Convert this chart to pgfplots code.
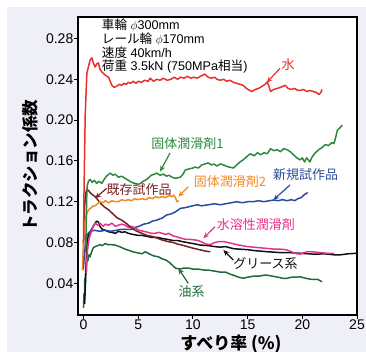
\documentclass[border=0pt]{standalone}
\usepackage{fontspec}
\setmainfont{Liberation Sans}
\newfontfamily\jp{Noto Sans CJK JP}
\usepackage{pgfplots}
\pgfplotsset{compat=1.18}
\usetikzlibrary{arrows.meta}
\definecolor{panel}{HTML}{EFEFF7}
\definecolor{cred}{HTML}{E8302A}
\definecolor{cgreen}{HTML}{2B8A3E}
\definecolor{cdgreen}{HTML}{1F6B3A}
\definecolor{corange}{HTML}{F08A24}
\definecolor{cblue}{HTML}{2A4D9B}
\definecolor{cdred}{HTML}{7A1F22}
\definecolor{cpink}{HTML}{E5338C}
\definecolor{cblack}{HTML}{111111}
\begin{document}
\begin{tikzpicture}
\fill[white] (-78bp,-37bp) rectangle (288bp,315bp);
\fill[panel] (-71bp,-37bp) rectangle (288bp,308bp);
\begin{axis}[at={(0,0)}, anchor=south west, scale only axis,
  width=279bp, height=298bp,
  xmin=-0.5, xmax=25, ymin=0.009, ymax=0.301,
  axis background/.style={fill=white},
  axis line style={line width=1.1pt},
  xtick={0,5,10,15,20,25},
  ytick={0.04,0.08,0.12,0.16,0.20,0.24,0.28},
  xtick pos=bottom, ytick pos=left, tick align=outside,
  major tick length=3.5bp,
  tick style={line width=1pt, black},
  scaled y ticks=false,
  yticklabel style={/pgf/number format/fixed, /pgf/number format/fixed zerofill, /pgf/number format/precision=2, inner xsep=1bp},
  xticklabel style={inner ysep=1.5bp},
  /pgf/number format/assume math mode=true,
  tick label style={font=\fontsize{14bp}{14bp}\selectfont},
  every axis plot/.append style={line width=1.5pt, line join=round, no markers},
]
% 油系
\addplot[cdgreen] coordinates {(0.0,0.016) (0.05,0.030) (0.08,0.020) (0.12,0.045) (0.15,0.035) (0.2,0.055) (0.25,0.050) (0.3,0.065) (0.4,0.062) (0.5,0.068) (0.6,0.066) (0.75,0.071) (0.9,0.075) (1.07,0.076) (1.3,0.077) (1.5,0.078) (1.7,0.077) (2.0,0.079) (2.2,0.078) (2.5,0.078) (2.9,0.0775) (3.3,0.076) (3.7,0.074) (4.1,0.0725) (4.5,0.071) (4.9,0.070) (5.35,0.069) (5.65,0.071) (6.0,0.069) (6.4,0.067) (6.85,0.066) (7.2,0.064) (7.5,0.063) (7.8,0.061) (8.1,0.058) (8.4,0.055) (8.8,0.054) (9.2,0.055) (9.6,0.055) (10.0,0.054) (10.5,0.054) (11.0,0.053) (11.4,0.053) (12.0,0.052) (12.5,0.051) (13.0,0.051) (13.4,0.049) (13.7,0.048) (14.2,0.046) (14.6,0.045) (15.0,0.046) (15.5,0.047) (16.0,0.047) (16.5,0.048) (16.8,0.048) (17.3,0.047) (17.8,0.046) (18.2,0.045) (18.6,0.045) (19.0,0.046) (19.4,0.046) (19.8,0.0465) (20.3,0.045) (20.8,0.044) (21.4,0.044) (21.8,0.0415)};
% グリース系
\addplot[cblack] coordinates {(0.1,0.020) (0.15,0.030) (0.2,0.045) (0.25,0.060) (0.3,0.075) (0.4,0.085) (0.5,0.088) (0.61,0.0905) (0.8,0.094) (1.0,0.098) (1.2,0.101) (1.37,0.100) (1.5,0.096) (1.7,0.093) (2.0,0.092) (2.3,0.0905) (2.6,0.090) (2.9,0.089) (3.2,0.091) (3.5,0.090) (3.8,0.0905) (4.1,0.089) (4.5,0.088) (5.0,0.087) (5.35,0.087) (5.8,0.086) (6.3,0.085) (6.8,0.085) (7.2,0.084) (7.7,0.083) (8.2,0.082) (8.6,0.082) (9.0,0.081) (9.5,0.080) (10.0,0.079) (10.7,0.0775) (11.4,0.077) (12.0,0.076) (12.5,0.0755) (13.0,0.076) (13.7,0.074) (14.3,0.0735) (15.0,0.073) (15.7,0.072) (16.3,0.0715) (16.8,0.071) (17.5,0.0705) (18.2,0.070) (19.0,0.070) (19.8,0.0695) (20.5,0.069) (21.2,0.0685) (22.0,0.069) (22.9,0.068) (23.5,0.068) (24.2,0.069) (25.0,0.0695)};
% 新規試作品
\addplot[cblue] coordinates {(0.0,0.055) (0.1,0.070) (0.2,0.080) (0.35,0.088) (0.6,0.091) (1.0,0.092) (1.5,0.091) (2.0,0.092) (2.5,0.091) (3.0,0.092) (3.5,0.093) (4.0,0.093) (4.4,0.093) (4.75,0.095) (5.1,0.096) (5.5,0.098) (5.95,0.099) (6.3,0.101) (6.7,0.102) (7.2,0.104) (7.6,0.107) (8.0,0.108) (8.4,0.110) (8.86,0.1135) (9.2,0.114) (9.6,0.115) (10.0,0.116) (10.4,0.117) (10.8,0.116) (11.4,0.117) (12.0,0.118) (12.5,0.117) (13.0,0.118) (13.5,0.119) (14.0,0.120) (14.5,0.119) (15.0,0.120) (15.5,0.120) (16.0,0.121) (16.5,0.120) (17.0,0.121) (17.4,0.1217) (17.8,0.121) (18.2,0.122) (18.6,0.121) (19.0,0.122) (19.3,0.121) (19.6,0.123) (19.9,0.124) (20.2,0.127) (20.5,0.129)};
% 水溶性潤滑剤
\addplot[cpink] coordinates {(0.25,0.050) (0.3,0.060) (0.35,0.070) (0.45,0.080) (0.6,0.087) (0.77,0.092) (0.9,0.096) (1.07,0.099) (1.3,0.097) (1.5,0.099) (1.8,0.096) (2.0,0.098) (2.3,0.097) (2.6,0.099) (2.9,0.096) (3.2,0.097) (3.5,0.098) (3.8,0.097) (4.1,0.095) (4.4,0.096) (4.75,0.094) (5.1,0.092) (5.5,0.091) (5.9,0.090) (6.2,0.089) (6.55,0.089) (6.9,0.090) (7.2,0.089) (7.5,0.088) (7.8,0.089) (8.1,0.087) (8.4,0.086) (8.7,0.085) (9.0,0.084) (9.4,0.083) (9.8,0.083) (10.2,0.0825) (10.5,0.082) (10.9,0.080) (11.2,0.0785) (11.6,0.078) (12.0,0.080) (12.4,0.081) (12.8,0.081) (13.2,0.080) (13.6,0.079) (14.0,0.078) (14.5,0.077) (15.0,0.076) (15.5,0.0755) (16.0,0.075) (16.5,0.0745) (17.0,0.074) (17.5,0.0735) (18.0,0.0735) (18.5,0.073) (19.0,0.071) (19.5,0.069) (19.85,0.0687) (20.1,0.070) (20.5,0.071) (20.8,0.071) (21.3,0.0705) (21.8,0.070) (22.3,0.0695) (22.9,0.0695)};
% 既存試作品
\addplot[cdred] coordinates {(-0.05,0.053) (0.0,0.070) (0.05,0.095) (0.1,0.115) (0.2,0.128) (0.3,0.132) (0.46,0.131) (0.6,0.129) (0.8,0.127) (1.07,0.125) (1.3,0.122) (1.6,0.118) (1.9,0.115) (2.3,0.112) (2.7,0.108) (3.1,0.104) (3.5,0.102) (4.0,0.098) (4.4,0.094) (4.9,0.091) (5.35,0.089) (5.8,0.087) (6.3,0.086) (6.8,0.084) (7.2,0.0825) (7.7,0.081) (8.2,0.080) (8.6,0.0785) (9.0,0.0775) (9.5,0.076) (10.0,0.0745) (10.4,0.0735) (10.8,0.0725) (11.2,0.0715) (11.6,0.071)};
% 固体潤滑剤2
\addplot[corange] coordinates {(-0.1,0.053) (-0.05,0.065) (0.0,0.080) (0.05,0.092) (0.1,0.100) (0.2,0.105) (0.3,0.108) (0.46,0.112) (0.7,0.114) (0.9,0.116) (1.07,0.116) (1.3,0.118) (1.5,0.120) (1.8,0.119) (2.0,0.121) (2.3,0.119) (2.6,0.121) (2.9,0.120) (3.2,0.120) (3.5,0.122) (3.8,0.121) (4.1,0.122) (4.4,0.121) (4.7,0.123) (5.0,0.122) (5.35,0.123) (5.7,0.122) (6.0,0.124) (6.3,0.123) (6.6,0.125) (6.9,0.124) (7.2,0.125) (7.5,0.124) (7.8,0.126) (8.05,0.125) (8.25,0.1265) (8.4,0.124) (8.55,0.120) (8.7,0.121)};
% 固体潤滑剤1
\addplot[cgreen] coordinates {(0.2,0.070) (0.25,0.100) (0.3,0.125) (0.35,0.136) (0.46,0.140) (0.6,0.142) (0.8,0.139) (1.0,0.141) (1.2,0.138) (1.4,0.140) (1.68,0.138) (1.9,0.142) (2.1,0.145) (2.44,0.148) (2.7,0.146) (2.9,0.147) (3.2,0.144) (3.5,0.145) (3.8,0.143) (4.1,0.141) (4.4,0.139) (4.7,0.138) (5.0,0.137) (5.2,0.138) (5.45,0.140) (5.65,0.141) (5.9,0.143) (6.2,0.146) (6.5,0.147) (6.7,0.148) (7.0,0.146) (7.3,0.147) (7.6,0.145) (7.8,0.146) (8.1,0.144) (8.4,0.143) (8.85,0.144) (9.1,0.147) (9.3,0.151) (9.6,0.152) (10.0,0.153) (10.2,0.154) (10.5,0.153) (10.8,0.156) (11.1,0.157) (11.4,0.158) (11.7,0.156) (11.9,0.157) (12.2,0.155) (12.5,0.157) (12.8,0.156) (13.0,0.155) (13.3,0.154) (13.7,0.153) (14.0,0.156) (14.3,0.159) (14.6,0.161) (14.9,0.164) (15.25,0.167) (15.6,0.165) (15.9,0.168) (16.2,0.166) (16.5,0.168) (16.8,0.167) (17.1,0.172) (17.4,0.170) (17.7,0.171) (18.0,0.169) (18.3,0.172) (18.6,0.171) (18.9,0.169) (19.2,0.166) (19.5,0.163) (19.8,0.161) (20.0,0.163) (20.2,0.159) (20.4,0.163) (20.7,0.159) (20.9,0.164) (21.2,0.168) (21.5,0.171) (21.8,0.173) (22.1,0.176) (22.4,0.175) (22.7,0.178) (22.9,0.177) (23.05,0.183) (23.2,0.190) (23.4,0.192) (23.65,0.195)};
% 水
\addplot[cred] coordinates {(0.0,0.080) (0.05,0.130) (0.1,0.165) (0.16,0.205) (0.25,0.230) (0.31,0.246) (0.45,0.252) (0.61,0.259) (0.77,0.261) (0.9,0.256) (1.07,0.252) (1.2,0.255) (1.37,0.256) (1.5,0.250) (1.69,0.247) (2.0,0.244) (2.29,0.242) (2.6,0.234) (2.8,0.232) (3.0,0.233) (3.3,0.235) (3.5,0.234) (3.7,0.236) (3.9,0.235) (4.1,0.237) (4.3,0.236) (4.55,0.238) (4.8,0.236) (5.0,0.238) (5.3,0.237) (5.6,0.239) (5.9,0.238) (6.1,0.241) (6.4,0.238) (6.7,0.240) (7.0,0.239) (7.3,0.241) (7.65,0.239) (8.0,0.240) (8.3,0.242) (8.6,0.240) (8.9,0.242) (9.2,0.241) (9.5,0.243) (9.8,0.241) (10.1,0.242) (10.4,0.241) (10.7,0.243) (11.1,0.245) (11.4,0.242) (11.7,0.241) (12.0,0.242) (12.2,0.240) (12.5,0.239) (12.8,0.240) (13.1,0.238) (13.4,0.239) (13.7,0.237) (14.0,0.236) (14.3,0.235) (14.6,0.234) (14.9,0.231) (15.2,0.229) (15.4,0.228) (15.7,0.230) (16.0,0.231) (16.3,0.233) (16.6,0.235) (16.8,0.2375) (16.95,0.233) (17.1,0.228) (17.4,0.230) (17.7,0.231) (18.0,0.232) (18.2,0.233) (18.45,0.234) (18.7,0.231) (19.0,0.230) (19.3,0.231) (19.6,0.229) (19.8,0.229) (20.1,0.230) (20.4,0.228) (20.7,0.229) (21.0,0.228) (21.3,0.227) (21.5,0.225) (21.7,0.227) (21.8,0.230)};
\end{axis}
% info text
\node[anchor=north west, inner sep=0pt, align=left, font=\fontsize{12.6bp}{13.7bp}\selectfont] at (23.7bp,296bp)
 {{\jp 車輪} $\phi$300mm\\{\jp レール輪} $\phi$170mm\\{\jp 速度} 40km/h\\{\jp 荷重} 3.5kN (750MPa{\jp 相当})};
% labels
\tikzset{lab/.style={font=\jp\fontsize{13bp}{13bp}\selectfont, inner sep=0pt}, arr/.style={line width=1.2pt, -{Stealth[length=6bp,width=5bp]}}}
\node[lab, text=cred] at (210bp,250bp) {水};
\draw[arr, cred] (202bp,246.7bp) -- (188.7bp,232.3bp);
\node[lab, text=cgreen] at (109.5bp,171.7bp) {固体潤滑剤1};
\draw[arr, cgreen] (92bp,162bp) -- (82bp,143.3bp);
\node[lab, text=corange] at (152bp,133.3bp) {固体潤滑剤2};
\draw[arr, corange] (110.3bp,128.3bp) -- (100.3bp,118.3bp);
\node[lab, text=cblue] at (227.5bp,140bp) {新規試作品};
\draw[arr, cblue] (212bp,130bp) -- (195.3bp,115bp);
\node[lab, text=cdred] at (61.2bp,125bp) {既存試作品};
\draw[arr, cdred] (28.7bp,126.7bp) -- (17bp,116.7bp);
\node[lab, text=cpink] at (177.8bp,90bp) {水溶性潤滑剤};
\draw[arr, cpink] (137bp,88.3bp) -- (125.3bp,76.7bp);
\node[lab, text=cblack] at (187.5bp,51.7bp) {グリース系};
\draw[arr, cblack] (155.3bp,55bp) -- (145.3bp,65bp);
\node[lab, text=cdgreen] at (113.7bp,23.3bp) {油系};
\draw[arr, cdgreen] (110.3bp,31.7bp) -- (100.3bp,46.7bp);
% axis titles
\node[font=\jp\bfseries\fontsize{16.5bp}{16.5bp}\selectfont, rotate=90, inner sep=0pt] at (-48bp,149bp) {トラクション係数};
\node[font=\jp\bfseries\fontsize{17bp}{17bp}\selectfont, inner sep=0pt] at (153bp,-29bp) {すべり率 (\%)};
\pgfresetboundingbox
\useasboundingbox (-78bp,-37bp) rectangle (288bp,315bp);
\end{tikzpicture}
\end{document}
